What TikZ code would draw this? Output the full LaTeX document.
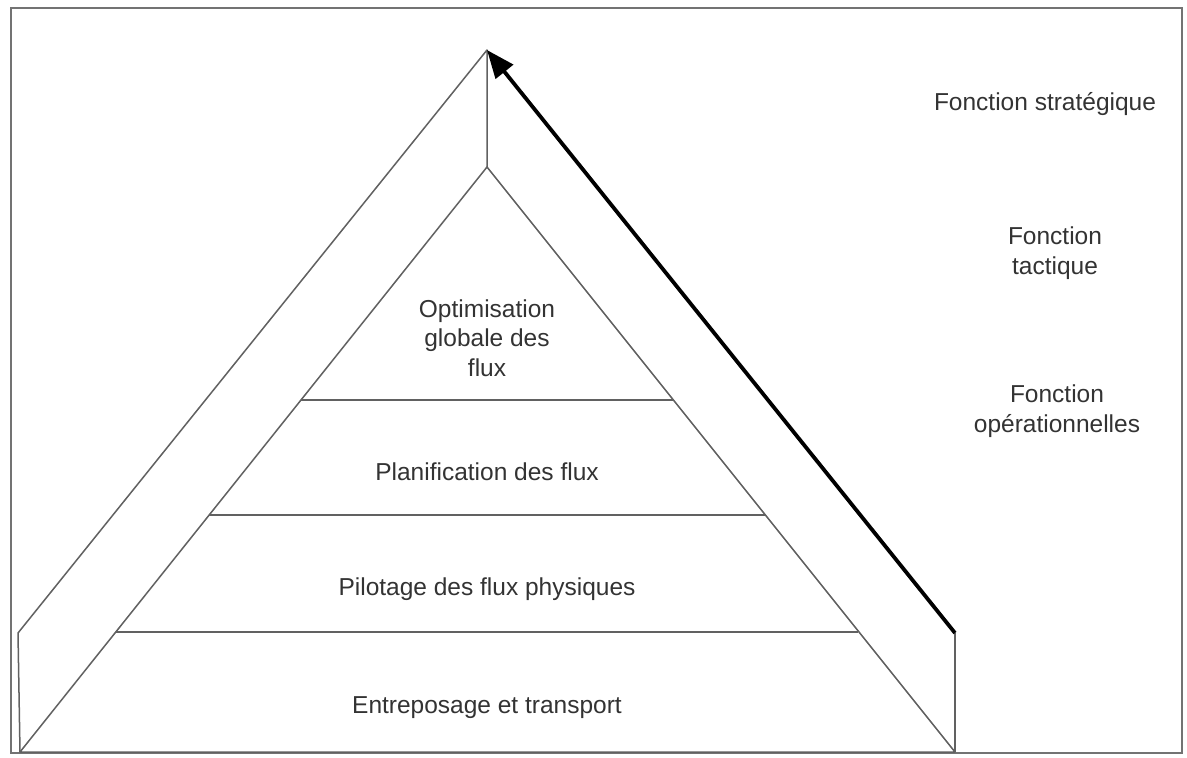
\documentclass[tikz,border=0pt]{standalone}
\usepackage{fontspec}
\setmainfont{Liberation Sans}
\usetikzlibrary{arrows.meta}
\begin{document}
\begin{tikzpicture}[x=1pt,y=-1pt,
  edge/.style={draw=black!62,line width=1.5pt,line join=round},
  frame/.style={draw=black!55,line width=2pt},
  rise/.style={draw=black,line width=3.8pt,-{Triangle[length=28pt,width=22pt]}},
  label/.style={text=black!80,align=center,font=\fontsize{24.5}{29.5}\selectfont,inner sep=0pt}]
\useasboundingbox (0,0) rectangle (1187,758);
\fill[white] (0,0) rectangle (1187,758);
% outer frame
\draw[frame] (11,8) rectangle (1182,753);
% key points of the pyramid
\coordinate (top) at (487,50);
\coordinate (itop) at (487,167);
\coordinate (ol) at (18,633);
\coordinate (or) at (955,633);
\coordinate (bl) at (20,752);
\coordinate (br) at (955,752);
% outer shell of the prism
\draw[edge] (bl) -- (ol) -- (top) -- (itop);
\draw[edge] (or) -- (br);
% inner triangle
\draw[edge] (bl) -- (itop) -- (br) -- cycle;
% level separators
\coordinate (l1a) at (301,400); \coordinate (l1b) at (673,400);
\coordinate (l2a) at (209,515); \coordinate (l2b) at (765,515);
\coordinate (l3a) at (116,632); \coordinate (l3b) at (858,632);
\draw[edge] (l1a) -- (l1b);
\draw[edge] (l2a) -- (l2b);
\draw[edge] (l3a) -- (l3b);
% rising arrow towards the strategic level
\draw[rise] (or) -- (top);
% level labels
\node[label] (opt) at (487,338) {Optimisation\\globale des\\flux};
\node[label] (plan) at (487,472) {Planification des flux};
\node[label] (pil) at (487,589) {Pilotage des flux physiques};
\node[label] (ent) at (487,708) {Entreposage et transport};
% function labels
\node[label] (fs) at (1045,104) {Fonction stratégique};
\node[label] (ft) at (1055,253) {Fonction\\tactique};
\node[label] (fo) at (1057,411) {Fonction\\opérationnelles};
\end{tikzpicture}
\end{document}
